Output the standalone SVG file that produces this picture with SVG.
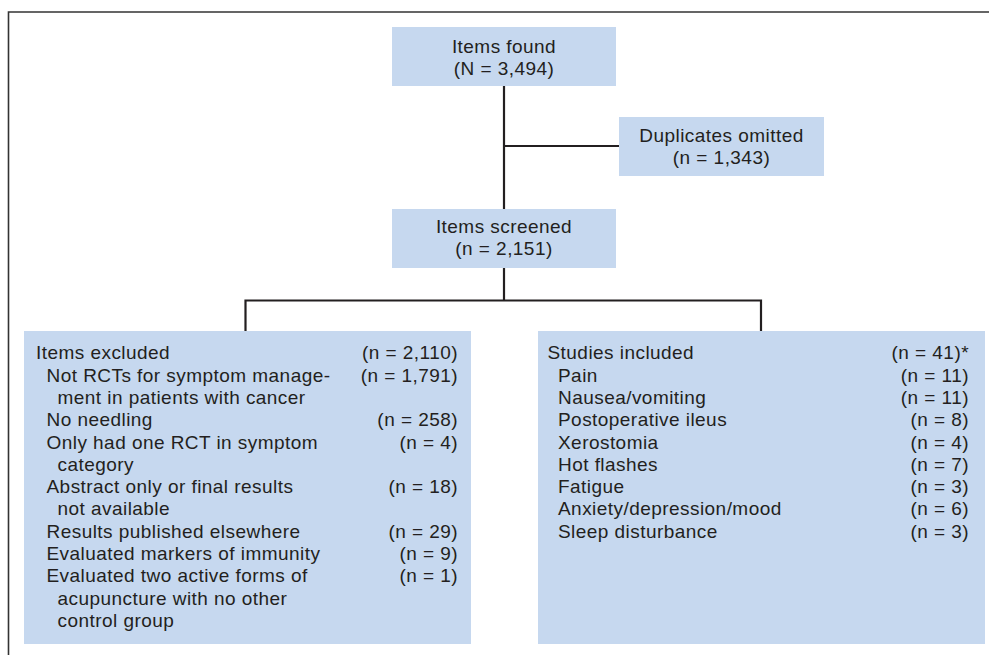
<svg xmlns="http://www.w3.org/2000/svg" width="989" height="655" viewBox="0 0 989 655">
<style>
.box{fill:#c6d8ef}
text{font-family:"Liberation Sans",Arial,sans-serif;font-size:19px;letter-spacing:0.45px;fill:#231f20}
.c{text-anchor:middle}
.r{text-anchor:end}
.conn{fill:none;stroke:#231f20;stroke-width:2.2}
.frame{fill:none;stroke:#333;stroke-width:1.6}
</style>
<rect width="989" height="655" fill="#fff"/>
<path class="frame" d="M8.5,655 V12 H989"/>
<g id="connectors">
<path class="conn" d="M504,86 V209"/>
<path class="conn" d="M504,146 H619"/>
<path class="conn" d="M504,268 V300.5"/>
<path class="conn" d="M245.5,331 V300.5 H761 V331"/>
</g>
<g id="items-found">
<rect class="box" x="392" y="27" width="224" height="59"/>
<text class="c" x="504" y="52.5">Items found</text>
<text class="c" x="504" y="74.5">(N = 3,494)</text>
</g>
<g id="duplicates">
<rect class="box" x="619" y="117" width="205" height="59"/>
<text class="c" x="721.5" y="141.5">Duplicates omitted</text>
<text class="c" x="721.5" y="163.5">(n = 1,343)</text>
</g>
<g id="items-screened">
<rect class="box" x="392" y="209" width="224" height="59"/>
<text class="c" x="504" y="233.3">Items screened</text>
<text class="c" x="504" y="255.3">(n = 2,151)</text>
</g>
<g id="items-excluded">
<rect class="box" x="24" y="331" width="447" height="313"/>
<text x="36" y="359.3">Items excluded</text>
<text class="r" x="458" y="359.3">(n = 2,110)</text>
<text x="46.5" y="381.6">Not RCTs for symptom manage-</text>
<text class="r" x="458" y="381.6">(n = 1,791)</text>
<text x="57.5" y="403.9">ment in patients with cancer</text>
<text x="46.5" y="426.2">No needling</text>
<text class="r" x="458" y="426.2">(n = 258)</text>
<text x="46.5" y="448.5">Only had one RCT in symptom</text>
<text class="r" x="458" y="448.5">(n = 4)</text>
<text x="57.5" y="470.8">category</text>
<text x="46.5" y="493.1">Abstract only or final results</text>
<text class="r" x="458" y="493.1">(n = 18)</text>
<text x="57.5" y="515.4">not available</text>
<text x="46.5" y="537.7">Results published elsewhere</text>
<text class="r" x="458" y="537.7">(n = 29)</text>
<text x="46.5" y="560">Evaluated markers of immunity</text>
<text class="r" x="458" y="560">(n = 9)</text>
<text x="46.5" y="582.3">Evaluated two active forms of</text>
<text class="r" x="458" y="582.3">(n = 1)</text>
<text x="57.5" y="604.6">acupuncture with no other</text>
<text x="57.5" y="626.9">control group</text>
</g>
<g id="studies-included">
<rect class="box" x="538" y="331" width="447" height="313"/>
<text x="547.5" y="359.3">Studies included</text>
<text class="r" x="969" y="359.3">(n = 41)*</text>
<text x="558" y="381.6">Pain</text>
<text class="r" x="969" y="381.6">(n = 11)</text>
<text x="558" y="403.9">Nausea/vomiting</text>
<text class="r" x="969" y="403.9">(n = 11)</text>
<text x="558" y="426.2">Postoperative ileus</text>
<text class="r" x="969" y="426.2">(n = 8)</text>
<text x="558" y="448.5">Xerostomia</text>
<text class="r" x="969" y="448.5">(n = 4)</text>
<text x="558" y="470.8">Hot flashes</text>
<text class="r" x="969" y="470.8">(n = 7)</text>
<text x="558" y="493.1">Fatigue</text>
<text class="r" x="969" y="493.1">(n = 3)</text>
<text x="558" y="515.4">Anxiety/depression/mood</text>
<text class="r" x="969" y="515.4">(n = 6)</text>
<text x="558" y="537.7">Sleep disturbance</text>
<text class="r" x="969" y="537.7">(n = 3)</text>
</g>
</svg>
